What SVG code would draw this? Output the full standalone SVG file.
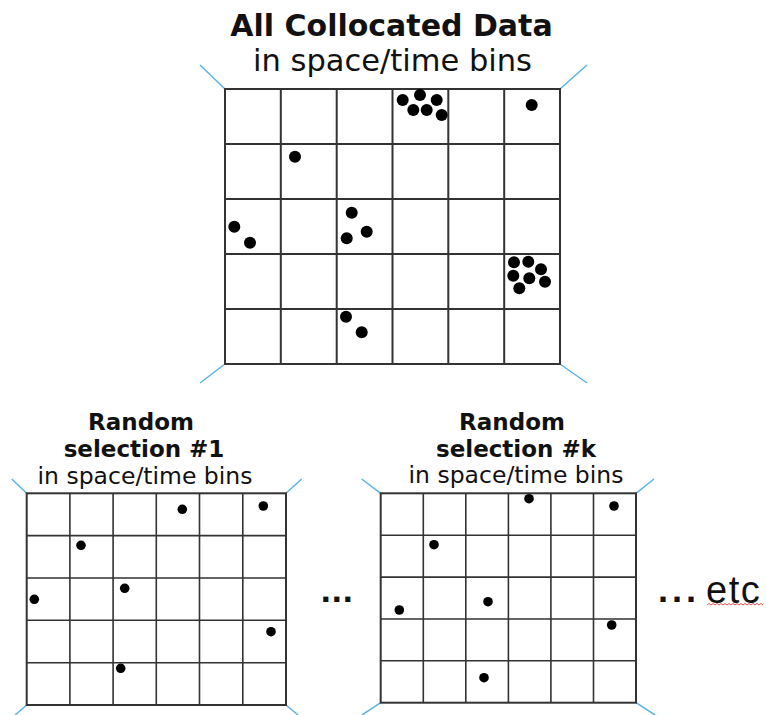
<svg xmlns="http://www.w3.org/2000/svg" width="766" height="715" viewBox="0 0 766 715">
<style>
.grid{fill:#fff;stroke:#333;stroke-width:2}
.gl{fill:none;stroke:#333;stroke-width:2}
.gs{fill:none;stroke:#333;stroke-width:1.6}
.tick{stroke:#5ab4e5;stroke-width:1.5;fill:none}
.dot{fill:#000}
.tb{font-family:"DejaVu Sans",Verdana,sans-serif;font-weight:bold;fill:#111;text-anchor:middle}
.tr{font-family:"DejaVu Sans",Verdana,sans-serif;fill:#111;text-anchor:middle}
.el{font-family:"DejaVu Sans",Verdana,sans-serif;font-weight:bold;fill:#111}
</style>
<rect width="766" height="715" fill="#fff"/>
<g id="all-data">
<text class="tb" x="391.5" y="36" font-size="30">All Collocated Data</text>
<text class="tr" x="392.5" y="71" font-size="30.5">in space/time bins</text>
<path class="tick" d="M225 89L200 65M560 89L587 65M225 364L200 383M560 364L587 383"/>
<rect class="grid" x="225" y="89" width="335" height="275"/>
<path class="gl" d="M280.8 89V364M336.7 89V364M392.5 89V364M448.3 89V364M504.2 89V364M225 144H560M225 199H560M225 254H560M225 309H560"/>
<g class="dot">
<circle cx="402.7" cy="100" r="6"/><circle cx="420" cy="95" r="6"/><circle cx="436.7" cy="100" r="6"/>
<circle cx="413.3" cy="110" r="6"/><circle cx="426.7" cy="110" r="6"/><circle cx="441.7" cy="115" r="6"/>
<circle cx="531.7" cy="105" r="6"/>
<circle cx="295" cy="156.7" r="6"/>
<circle cx="234.3" cy="226.7" r="6"/><circle cx="250" cy="242.7" r="6"/>
<circle cx="351.7" cy="212.7" r="6"/><circle cx="366.7" cy="231.7" r="6"/><circle cx="346.7" cy="238.3" r="6"/>
<circle cx="514" cy="262.3" r="6"/><circle cx="528.3" cy="261.7" r="6"/><circle cx="541" cy="269.3" r="6"/>
<circle cx="513.3" cy="275.7" r="6"/><circle cx="529.3" cy="278.3" r="6"/><circle cx="545" cy="281.7" r="6"/>
<circle cx="519.3" cy="288.3" r="6"/>
<circle cx="346" cy="316.7" r="6"/><circle cx="361.7" cy="332.3" r="6"/>
</g>
</g>
<g id="selection-1">
<text class="tb" x="141" y="430" font-size="23">Random</text>
<text class="tb" x="144" y="457" font-size="23">selection #1</text>
<text class="tr" x="145" y="484" font-size="23.5">in space/time bins</text>
<path class="tick" d="M26.7 493.3L11.7 479M286 493.3L301.7 479M26.7 705L15 715M286 705L298 715"/>
<rect class="grid" x="26.7" y="493.3" width="259.3" height="211.7" stroke-width="1.6"/>
<path class="gs" d="M69.9 493.3V705M113.1 493.3V705M156.3 493.3V705M199.5 493.3V705M242.8 493.3V705M26.7 535.6H286M26.7 578H286M26.7 620.3H286M26.7 662.7H286"/>
<g class="dot">
<circle cx="182.3" cy="509.3" r="4.8"/><circle cx="263.3" cy="506" r="4.8"/>
<circle cx="81" cy="545.3" r="4.8"/><circle cx="124.7" cy="588.3" r="4.8"/>
<circle cx="34.3" cy="599.3" r="4.8"/><circle cx="271" cy="631.7" r="4.8"/>
<circle cx="120.7" cy="668.3" r="4.8"/>
</g>
</g>
<g id="selection-k">
<text class="tb" x="512" y="430" font-size="23">Random</text>
<text class="tb" x="516" y="457" font-size="23">selection #k</text>
<text class="tr" x="516" y="483" font-size="23.5">in space/time bins</text>
<path class="tick" d="M380.7 493.3L361.7 479M636 493.3L654 479M380.7 702.7L362 715M636 702.7L655 715"/>
<rect class="grid" x="380.7" y="493.3" width="255.3" height="209.4" stroke-width="1.6"/>
<path class="gs" d="M423.3 493.3V702.7M465.8 493.3V702.7M508.4 493.3V702.7M550.9 493.3V702.7M593.5 493.3V702.7M380.7 535.2H636M380.7 577.1H636M380.7 619H636M380.7 660.8H636"/>
<g class="dot">
<circle cx="529" cy="498.7" r="4.8"/><circle cx="614" cy="506" r="4.8"/>
<circle cx="434" cy="544.7" r="4.8"/><circle cx="488" cy="601.7" r="4.8"/>
<circle cx="399.3" cy="610" r="4.8"/><circle cx="611.7" cy="625" r="4.8"/>
<circle cx="484" cy="677.7" r="4.8"/>
</g>
</g>
<g id="ellipsis-middle">
<text class="el" x="320.2" y="601.8" font-size="29">...</text>
</g>
<g id="ellipsis-etc">
<text class="el" x="657.5" y="601.8" font-size="29" letter-spacing="3">...</text>
<text x="706" y="603" font-family="'Liberation Sans',Arial,sans-serif" font-size="38" letter-spacing="1.5" fill="#111">etc</text>
<path d="M707 605l2 -1.5l2 1.5l2 -1.5l2 1.5l2 -1.5l2 1.5l2 -1.5l2 1.5l2 -1.5l2 1.5l2 -1.5l2 1.5l2 -1.5l2 1.5l2 -1.5l2 1.5l2 -1.5l2 1.5l2 -1.5l2 1.5l2 -1.5l2 1.5l2 -1.5l2 1.5l2 -1.5l2 1.5l2 -1.5l2 1.5" fill="none" stroke="#e03c3c" stroke-width="0.9"/>
</g>
<g id="connectors"/>
</svg>
